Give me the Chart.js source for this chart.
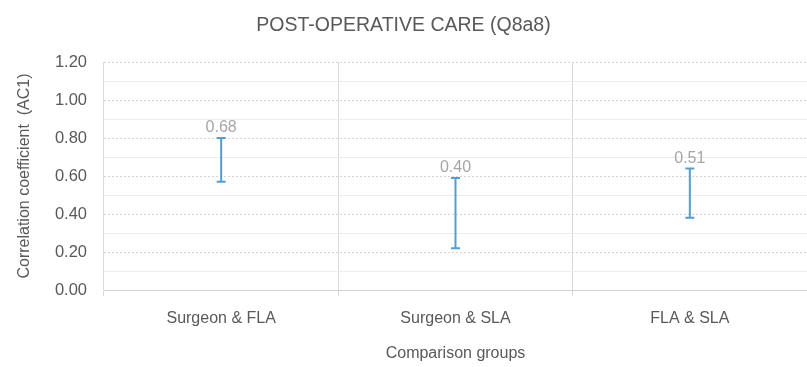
<!DOCTYPE html>
<html>
<head>
<meta charset="utf-8">
<script src="https://cdn.jsdelivr.net/npm/chart.js@4"></script>
<style>
  html, body { margin: 0; padding: 0; background: #fff; }
  #wrap { width: 807px; height: 367px; }
</style>
</head>
<body>
<div id="wrap"><canvas id="chart" width="807" height="367"></canvas></div>
<script>
// values
const groups = ['Surgeon & FLA', 'Surgeon & SLA', 'FLA & SLA'];
const ac1 = [0.68, 0.40, 0.51];
const ciLower = [0.57, 0.22, 0.38];
const ciUpper = [0.80, 0.59, 0.64];

const FONT = "'Liberation Sans Narrow', 'Liberation Sans', Arial, sans-serif";
const TEXT = '#595959';

// error bars + value labels, positioned through the chart's scales
const errorBars = {
    id: 'errorBars',
    afterDatasetsDraw(chart) {
        const ctx = chart.ctx;
        const x = chart.scales.x, y = chart.scales.y;
        ctx.save();
        ac1.forEach((v, i) => {
            const px = x.getPixelForValue(i);
            const top = y.getPixelForValue(ciUpper[i]);
            const bot = y.getPixelForValue(ciLower[i]);
            ctx.strokeStyle = '#4e9fd6';
            ctx.lineWidth = 2;
            ctx.beginPath();
            ctx.moveTo(px, top); ctx.lineTo(px, bot);
            ctx.moveTo(px - 4.5, top); ctx.lineTo(px + 4.5, top);
            ctx.moveTo(px - 4.5, bot); ctx.lineTo(px + 4.5, bot);
            ctx.stroke();
            ctx.fillStyle = '#a6a6a6';
            ctx.font = '16px ' + FONT;
            ctx.textAlign = 'center';
            ctx.textBaseline = 'bottom';
            ctx.fillText(v.toFixed(2), px, top - 2);
        });
        ctx.restore();
    }
};

new Chart(document.getElementById('chart'), {
    type: 'line',
    data: {
        labels: groups,
        datasets: [{
            label: 'AC1',
            data: ac1,
            showLine: false,
            pointRadius: 0,
            yAxisID: 'y'
        }]
    },
    options: {
        responsive: false,
        animation: false,
        layout: { padding: 0 },
        plugins: {
            legend: { display: false },
            tooltip: { enabled: false },
            title: {
                display: true,
                text: 'POST-OPERATIVE CARE (Q8a8)',
                color: TEXT,
                font: { family: FONT, size: 19.5, weight: 'normal' },
                padding: { top: 14, bottom: 24.6 }
            }
        },
        scales: {
            x: {
                offset: true,
                grid: { offset: true, color: '#d9d9d9', tickLength: 6 },
                border: { color: '#d0d0d0', width: 1 },
                ticks: { color: TEXT, font: { family: FONT, size: 16 }, padding: 13 },
                title: {
                    display: true,
                    text: 'Comparison groups',
                    color: TEXT,
                    font: { family: FONT, size: 16 },
                    padding: { top: 0, bottom: 4 }
                },
                afterFit: s => { s.height = 77; }
            },
            y: {
                min: 0,
                max: 1.2,
                position: 'left',
                ticks: {
                    stepSize: 0.2,
                    color: TEXT,
                    font: { family: FONT, size: 16.5 },
                    padding: 17,
                    callback: v => v.toFixed(2)
                },
                grid: { color: '#d4d4d4', drawTicks: false },
                border: { display: false, dash: [2, 2] },
                title: {
                    display: true,
                    text: 'Correlation coefficient  (AC1)',
                    color: TEXT,
                    font: { family: FONT, size: 16 },
                    padding: { top: 15, bottom: 0 }
                },
                afterFit: s => { s.width = 104; }
            },
            yMinor: {
                min: 0,
                max: 1.2,
                position: 'left',
                ticks: { display: false, stepSize: 0.1 },
                grid: {
                    drawTicks: false,
                    color: c => (c.index % 2 === 1 ? '#ececec' : 'rgba(0,0,0,0)')
                },
                border: { display: false },
                afterFit: s => { s.width = 0; }
            }
        }
    },
    plugins: [errorBars]
});
</script>
</body>
</html>
